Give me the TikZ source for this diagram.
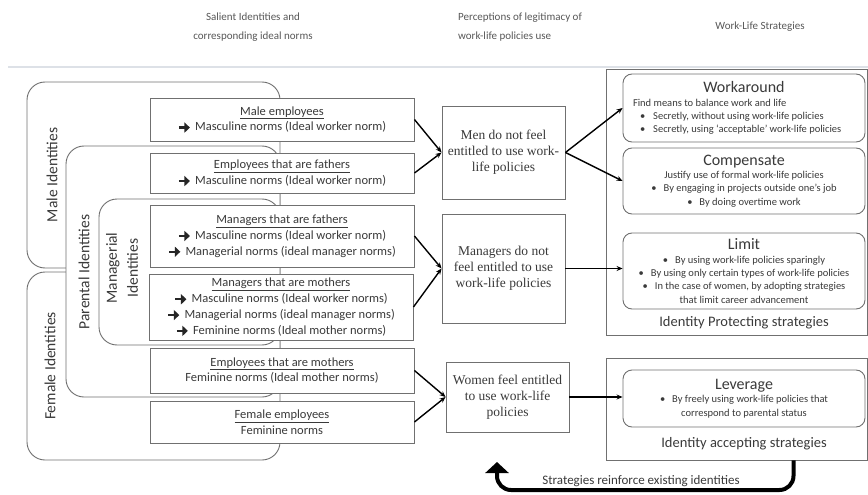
\documentclass[tikz,border=0pt]{standalone}
\usepackage{fontspec}
\setmainfont{Carlito}
\newfontfamily\serifface{Liberation Serif}
\usetikzlibrary{arrows.meta}
\definecolor{inkgray}{HTML}{3A3A3A}
\definecolor{boxgray}{HTML}{707070}
\definecolor{rulegray}{HTML}{DDE1E7}
\newcommand{\harr}{\tikz[baseline=-3.3pt]\draw[-{Triangle[length=5.5pt,width=10pt]},line width=2.4pt,black!85] (0pt,0pt)--(11pt,0pt);\hspace{4pt}}
\newcommand{\strattitle}{\fontsize{16}{19}\selectfont}
\tikzset{
  header/.style={text=inkgray!85, align=center, font=\fontsize{11}{19}\selectfont},
  region/.style={draw=boxgray, fill=white, line width=0.9pt, rounded corners=18pt},
  regionlabel/.style={rotate=90, text=inkgray, align=center, font=\fontsize{15.5}{21}\selectfont},
  idbox/.style={draw=boxgray, fill=white, line width=0.9pt, minimum width=264pt, inner sep=2pt, align=center, text=inkgray, font=\fontsize{12.5}{15.8}\selectfont},
  legitbox/.style={draw=boxgray, fill=white, line width=0.9pt, inner sep=2pt, align=center, text=inkgray, font=\serifface\fontsize{13.5}{16}\selectfont},
  outerbox/.style={draw=boxgray, line width=0.9pt},
  stratbox/.style={draw=boxgray, fill=white, line width=0.9pt, rounded corners=9pt, minimum width=242pt, inner sep=3pt, align=center, text=inkgray, font=\fontsize{10.5}{13.3}\selectfont},
  grouplabel/.style={text=inkgray, font=\fontsize{14.5}{17}\selectfont},
  link/.style={-{Stealth[length=6pt,width=5pt]}, line width=1.4pt},
  reinforce/.style={-{Triangle[length=11pt,width=23pt]}, line width=4pt, rounded corners=14pt},
  reinforcelabel/.style={text=inkgray, font=\fontsize{13}{15}\selectfont}
}
\begin{document}
\begin{tikzpicture}[x=1pt,y=-1pt]
\pgfmathsetmacro{\idx}{282}
\pgfmathsetmacro{\stx}{744}
%\draw[help lines,step=50] (0,0) grid (868,495);
\useasboundingbox (0,0) rectangle (868,495);
\node[header] (hid) at (253,27) {Salient Identities and\\corresponding ideal norms};
\node[header,align=left] (hleg) at (520,27) {Perceptions of legitimacy of\\work-life policies use};
\node[header] (hstr) at (760,27) {Work-Life Strategies};
\draw[rulegray,line width=1.5pt] (8,67)--(868,67);
% identity regions
\draw[region] (27,82) rectangle (280,268);
\draw[region] (27,272) rectangle (280,460);
\draw[region] (66,146) rectangle (280,397);
\draw[region] (99,199) rectangle (280,345);
\node[regionlabel] (malelab) at (52,175) {Male Identities};
\node[regionlabel] (femalelab) at (50,366) {Female Identities};
\node[regionlabel] (parentlab) at (84,272) {Parental Identities};
\node[regionlabel] (mgrlab) at (122,268) {Managerial\\Identities};
% identities and norms
\node[idbox,minimum height=43pt] (maleemp) at (\idx,119.5) {\underline{Male employees}\\\harr Masculine norms (Ideal worker norm)};
\node[idbox,minimum height=40pt] (empfath) at (\idx,173) {\underline{Employees that are fathers}\\\harr Masculine norms (Ideal worker norm)};
\node[idbox,minimum height=62pt] (mgrfath) at (\idx,236) {\underline{Managers that are fathers}\\\harr Masculine norms (Ideal worker norm)\\\harr Managerial norms (ideal manager norms)};
\node[idbox,minimum height=66pt] (mgrmoth) at (\idx-1,307) {\underline{Managers that are mothers}\\\harr Masculine norms (Ideal worker norms)\\\harr Managerial norms (ideal manager norms)\\\harr Feminine norms (Ideal mother norms)};
\node[idbox,minimum height=45pt] (empmoth) at (\idx,370.5) {\underline{Employees that are mothers}\\Feminine norms (Ideal mother norms)};
\node[idbox,minimum height=42pt] (femaleemp) at (\idx,422) {\underline{Female employees}\\Feminine norms};
% perceived legitimacy
\node[legitbox,minimum width=123pt,minimum height=93pt] (men) at (503.5,152.5) {Men do not feel\\entitled to use work-\\life policies};
\node[legitbox,minimum width=123pt,minimum height=109pt] (managers) at (503.5,268.5) {Managers do not\\feel entitled to use\\work-life policies};
\node[legitbox,minimum width=123pt,minimum height=70pt] (women) at (507.5,397) {Women feel entitled\\to use work-life\\policies};
% strategies
\node[outerbox,minimum width=261pt,minimum height=266pt] (protect) at (736.5,202) {};
\node[outerbox,minimum width=261pt,minimum height=102pt] (accept) at (736.5,409) {};
\node[stratbox,minimum height=68pt] (workaround) at (\stx,108) {{\strattitle Workaround}\\
\parbox[t]{222pt}{Find means to balance work and life\\
\hspace*{7pt}•\hspace{8pt}Secretly, without using work-life policies\\
\hspace*{7pt}•\hspace{8pt}Secretly, using ‘acceptable’ work-life policies}};
\node[stratbox,minimum height=66pt] (compensate) at (\stx,181) {{\strattitle Compensate}\\Justify use of formal work-life policies\\•\hspace{7pt}By engaging in projects outside one’s job\\•\hspace{7pt}By doing overtime work};
\node[stratbox,minimum height=76pt] (limit) at (\stx,271) {{\strattitle Limit}\\•\hspace{7pt}By using work-life policies sparingly\\•\hspace{7pt}By using only certain types of work-life policies\\•\hspace{7pt}In the case of women, by adopting strategies\\that limit career advancement};
\node[stratbox,minimum height=57pt] (leverage) at (\stx,398.5) {{\strattitle Leverage}\\•\hspace{7pt}By freely using work-life policies that\\correspond to parental status};
\node[grouplabel] (protectlab) at (\stx,323) {Identity Protecting strategies};
\node[grouplabel] (acceptlab) at (\stx,444) {Identity accepting strategies};
% connectors
\draw[link] (maleemp.east) -- (men.west);
\draw[link] (empfath.east) -- (men.west);
\draw[link] (mgrfath.east) -- (managers.west);
\draw[link] (mgrmoth.east) -- (managers.west);
\draw[link] (empmoth.east) -- (women.west);
\draw[link] (femaleemp.east) -- (women.west);
\draw[link] (men.east) -- (workaround.west);
\draw[link] (men.east) -- (compensate.west);
\draw[link] (managers.east) -- (managers.east -| limit.west);
\draw[link] (women.east) -- (women.east -| leverage.west);
\coordinate (loopturn) at (497,490);
\coordinate (loopend) at (497,462);
\draw[reinforce] ([xshift=57pt]accept.south) |- (loopturn) -- (loopend);
\node[reinforcelabel] (reinforcetxt) at (641,481) {Strategies reinforce existing identities};
\end{tikzpicture}
\end{document}
